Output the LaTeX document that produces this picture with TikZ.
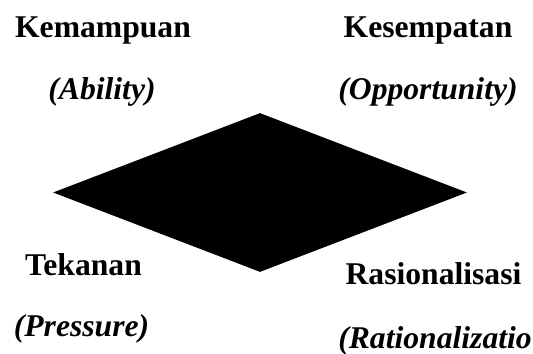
\documentclass[tikz,border=0pt]{standalone}
\usepackage{fontspec}
\setmainfont{Liberation Serif}
\usepackage{tikz}
\usetikzlibrary{shapes.geometric}

\begin{document}
\begin{tikzpicture}[
  ttl/.style={font=\fontsize{18}{22}\selectfont\bfseries, anchor=base, inner sep=0pt},
  eng/.style={font=\fontsize{18}{22}\selectfont\bfseries\itshape, anchor=base, inner sep=0pt},
  core/.style={diamond, fill=black, inner sep=0pt, minimum width=8.28cm, minimum height=3.18cm}]
  \useasboundingbox (0,0) rectangle (10.66,7.08);
  % the fraud diamond
  \node[core] (dmd) at (5.2,3.23) {};
  % top corners
  \node[ttl] (abil)   at (2.06,6.33) {Kemampuan};
  \node[eng] (abilE)  at (2.04,5.08) {(Ability)};
  \node[ttl] (oppt)   at (8.56,6.33) {Kesempatan};
  \node[eng] (opptE)  at (8.56,5.08) {(Opportunity)};
  % bottom corners
  \node[ttl] (press)  at (1.67,1.57) {Tekanan};
  \node[eng] (pressE) at (1.63,0.35) {(Pressure)};
  \node[ttl] (rat)    at (8.67,1.38) {Rasionalisasi};
  \node[eng, anchor=base west] (ratE) at (6.76,0.11) {(Rationalizatio};
\end{tikzpicture}
\end{document}
